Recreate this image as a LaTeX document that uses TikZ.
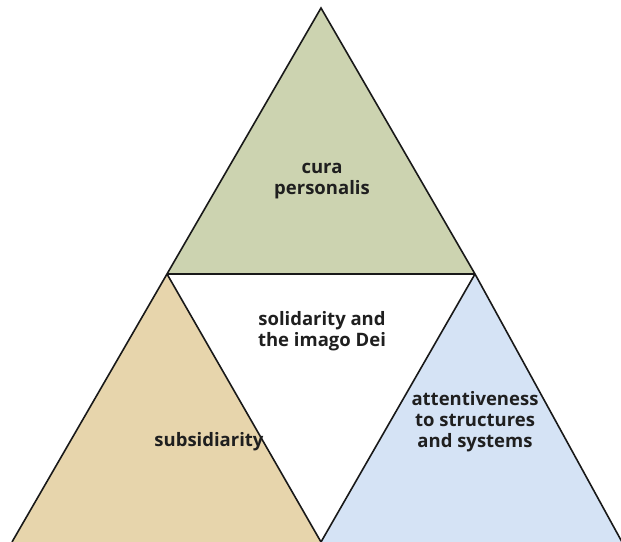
\documentclass[tikz,border=0pt]{standalone}
\usepackage{fontspec}
\setmainfont{Open Sans}
\begin{document}
\begin{tikzpicture}[x=1pt,y=1pt,
  tri/.style={draw=black!90, line width=1.6pt, line join=miter},
  lbl/.style={font=\bfseries\fontsize{18.5}{21}\selectfont, align=center, text=black!88, anchor=base, inner sep=0pt}]
\definecolor{tgreen}{RGB}{204,211,176}
\definecolor{ttan}{RGB}{231,213,172}
\definecolor{tblue}{RGB}{213,227,245}
\useasboundingbox (0,0) rectangle (621,541);
\coordinate (A) at (321,533);
\coordinate (L) at (167,267);
\coordinate (R) at (475,267);
\coordinate (BL) at (12,-1);
\coordinate (BM) at (321,-1);
\coordinate (BR) at (622,-1);
\fill[tgreen] (A) -- (L) -- (R) -- cycle;
\fill[ttan] (L) -- (BL) -- (BM) -- cycle;
\fill[tblue] (R) -- (BM) -- (BR) -- cycle;
\draw[tri] (BL) -- (L) -- (A) -- (R) -- (BR);
\draw[tri] (L) -- (R);
\draw[tri] (L) -- (BM) -- (R);
\node[lbl] (cura) at (322,346) {cura\\personalis};
\node[lbl] (soli) at (322,194) {solidarity and\\the imago Dei};
\node[lbl] (subs) at (209,94) {subsidiarity};
\node[lbl] (att) at (475,93) {attentiveness\\to structures\\and systems};
\end{tikzpicture}
\end{document}
